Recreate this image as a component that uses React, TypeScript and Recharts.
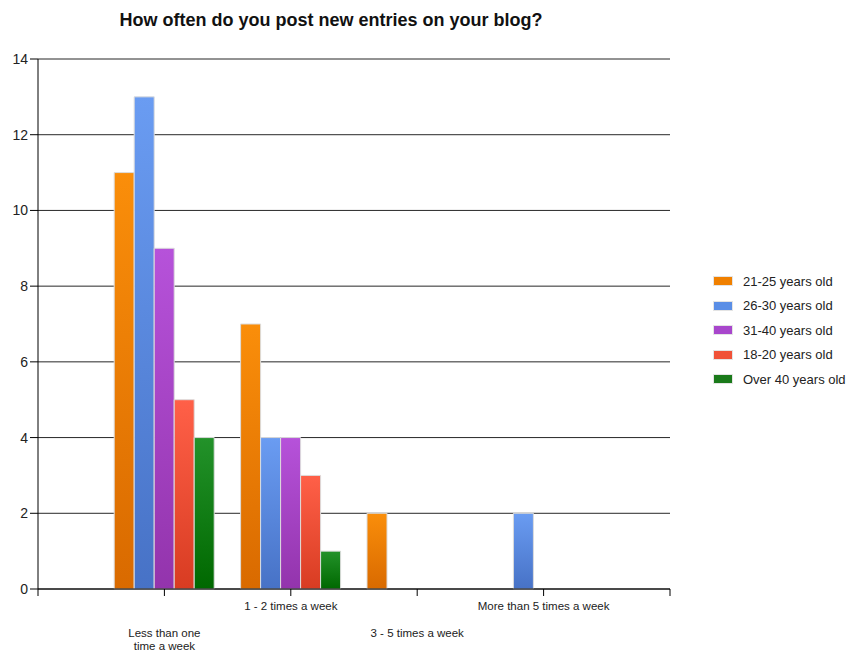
import React from "react";
import {
  BarChart,
  Bar,
  XAxis,
  YAxis,
  CartesianGrid,
} from "recharts";

// chart data
const categories = [
  "Less than one time a week",
  "1 - 2 times a week",
  "3 - 5 times a week",
  "More than 5 times a week",
];
const yTicks = [0, 2, 4, 6, 8, 10, 12, 14];

const age21to25 = [11, 7, 2, 0];
const age26to30 = [13, 4, 0, 2];
const age31to40 = [9, 4, 0, 0];
const age18to20 = [5, 3, 0, 0];
const over40 = [4, 1, 0, 0];

const series = [
  { key: "a2125", name: "21-25 years old", values: age21to25, top: "#FA8E0A", bottom: "#D96A00", swatch: "#F08000" },
  { key: "a2630", name: "26-30 years old", values: age26to30, top: "#6A9CF2", bottom: "#4772C6", swatch: "#5A8EE6" },
  { key: "a3140", name: "31-40 years old", values: age31to40, top: "#B652DA", bottom: "#9334AC", swatch: "#A846CC" },
  { key: "a1820", name: "18-20 years old", values: age18to20, top: "#FF6048", bottom: "#D83C22", swatch: "#F05238" },
  { key: "o40", name: "Over 40 years old", values: over40, top: "#23922A", bottom: "#006800", swatch: "#1A7A1A" },
];

const data = categories.map((c, i) => {
  const row: Record<string, number | string> = { pos: i + 1, name: c };
  series.forEach((s) => {
    row[s.key] = s.values[i];
  });
  return row;
});

const FONT = "'Liberation Sans', Arial, sans-serif";

// split long labels in two lines at the word gap nearest the middle
const wrap = (label: string): string[] => {
  if (label.length <= 24) return [label];
  const mid = label.length / 2;
  let best = -1;
  for (let i = 0; i < label.length; i++) {
    if (label[i] === " " && (best < 0 || Math.abs(i - mid) < Math.abs(best - mid))) best = i;
  }
  return [label.slice(0, best), label.slice(best + 1)];
};

const CategoryTick = (props: any) => {
  const { x, y, payload } = props;
  const v = payload.value;
  if (v < 1 || v > categories.length) return null;
  const lines = wrap(categories[v - 1]);
  const lower = v % 2 === 1;
  const base = lower ? y + 39 : y + 12;
  return (
    <text x={x} y={base} textAnchor="middle" fill="#222" fontSize={11.5} fontFamily={FONT}>
      {lines.map((l, i) => (
        <tspan key={i} x={x} dy={i === 0 ? 0 : 13}>
          {l}
        </tspan>
      ))}
    </text>
  );
};

const LegendBox = () => (
  <div
    style={{
      position: "absolute",
      left: 713,
      top: 269,
      fontFamily: FONT,
      fontSize: 13,
      color: "#222",
    }}
  >
    {series.map((s) => (
      <div key={s.key} style={{ display: "flex", alignItems: "center", height: 24.5, whiteSpace: "nowrap" }}>
        <span
          style={{
            display: "inline-block",
            width: 20,
            height: 10,
            background: s.swatch,
            boxSizing: "border-box",
            border: "1px solid #e4e4e4",
            marginRight: 10,
          }}
        />
        <span>{s.name}</span>
      </div>
    ))}
  </div>
);

export default function App() {
  return (
    <div style={{ position: "absolute", left: 0, top: 0, width: 848, height: 653, background: "#fff" }}>
      <div
        style={{
          position: "absolute",
          left: 331,
          top: 9,
          transform: "translateX(-50%)",
          whiteSpace: "nowrap",
          fontFamily: FONT,
          fontWeight: "bold",
          fontSize: 18,
          lineHeight: "22px",
          color: "#111",
        }}
      >
        How often do you post new entries on your blog?
      </div>
      <BarChart
        width={848}
        height={653}
        data={data}
        margin={{ top: 59, right: 178, bottom: 0, left: 0 }}
        barGap={0}
        barSize={20}
      >
        <defs>
          {series.map((s) => (
            <linearGradient key={s.key} id={`grad-${s.key}`} x1="0" y1="0" x2="0" y2="1">
              <stop offset="0%" stopColor={s.top} />
              <stop offset="100%" stopColor={s.bottom} />
            </linearGradient>
          ))}
        </defs>
        <CartesianGrid vertical={false} stroke="#000" strokeOpacity={0.85} />
        <XAxis
          dataKey="pos"
          type="number"
          domain={[0, categories.length + 1]}
          ticks={[0, 1, 2, 3, 4, 5]}
          interval={0}
          height={64}
          tickSize={7}
          stroke="#000"
          tick={<CategoryTick />}
        />
        <YAxis
          width={38}
          domain={[0, 14]}
          ticks={yTicks}
          interval={0}
          tickSize={8}
          stroke="#000"
          tick={{ fill: "#222", fontSize: 14, fontFamily: FONT }}
        />
        {series.map((s) => (
          <Bar
            key={s.key}
            dataKey={s.key}
            name={s.name}
            fill={`url(#grad-${s.key})`}
            stroke="#dcdcdc"
            strokeWidth={1}
            isAnimationActive={false}
          />
        ))}
      </BarChart>
      <LegendBox />
    </div>
  );
}
